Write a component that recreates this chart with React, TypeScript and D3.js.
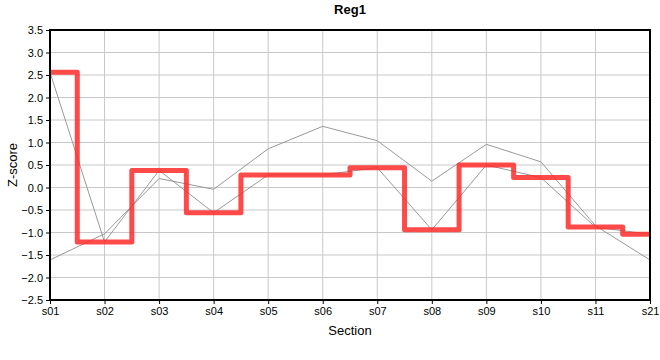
import React, { useEffect, useRef } from 'react'
import * as d3 from 'd3'

const sections = ['s01', 's02', 's03', 's04', 's05', 's06', 's07', 's08', 's09', 's10', 's11', 's21']
const regValues = [2.56, -1.21, 0.38, -0.56, 0.28, 0.28, 0.44, -0.94, 0.5, 0.22, -0.88, -1.04]
const otherValues = [-1.61, -1.03, 0.2, -0.04, 0.86, 1.36, 1.04, 0.14, 0.96, 0.57, -0.85, -1.61]
const yTicks = d3.range(-2.5, 3.51, 0.5)

export default function App() {
  const svgRef = useRef<SVGSVGElement>(null)
  const width = 660
  const height = 360

  useEffect(() => {
    if (!svgRef.current) return
    const svg = d3.select(svgRef.current)
    svg.selectAll('*').remove()

    const margin = { top: 30, right: 10, bottom: 60, left: 50 }
    const w = width - margin.left - margin.right
    const h = height - margin.top - margin.bottom
    const font = 'Arial, "Liberation Sans", sans-serif'

    const x = d3.scalePoint<string>().domain(sections).range([0, w])
    const y = d3.scaleLinear().domain([-2.5, 3.5]).range([h, 0])

    const g = svg.append('g').attr('transform', `translate(${margin.left},${margin.top})`)

    // grid
    g.append('g')
      .selectAll('line')
      .data(sections)
      .join('line')
      .attr('x1', d => x(d)!)
      .attr('x2', d => x(d)!)
      .attr('y1', 0)
      .attr('y2', h)
      .attr('stroke', '#c8c8c8')
    g.append('g')
      .selectAll('line')
      .data(yTicks)
      .join('line')
      .attr('x1', 0)
      .attr('x2', w)
      .attr('y1', d => y(d))
      .attr('y2', d => y(d))
      .attr('stroke', '#c8c8c8')

    const line = d3.line<number>()
      .x((_, i) => x(sections[i])!)
      .y(d => y(d))

    // gray lines
    g.append('path')
      .datum(otherValues)
      .attr('d', line)
      .attr('fill', 'none')
      .attr('stroke', '#999')
      .attr('stroke-width', 1)
    g.append('path')
      .datum(regValues)
      .attr('d', line)
      .attr('fill', 'none')
      .attr('stroke', '#999')
      .attr('stroke-width', 1)

    // red step
    g.append('path')
      .datum(regValues)
      .attr('d', line.curve(d3.curveStep))
      .attr('fill', 'none')
      .attr('stroke', '#ff2a2a')
      .attr('stroke-opacity', 0.85)
      .attr('stroke-width', 5)
      .attr('stroke-linejoin', 'round')

    // border
    g.append('rect')
      .attr('width', w)
      .attr('height', h)
      .attr('fill', 'none')
      .attr('stroke', '#000')
      .attr('stroke-width', 2)

    // axes
    const yAxis = g.append('g')
      .call(d3.axisLeft(y).tickValues(yTicks).tickFormat(d3.format('.1f')).tickSize(4))
    yAxis.select('.domain').remove()
    yAxis.selectAll('text').attr('font-size', 11).attr('font-family', font).attr('fill', '#000')

    const xAxis = g.append('g')
      .attr('transform', `translate(0,${h})`)
      .call(d3.axisBottom(x).tickSize(4))
    xAxis.select('.domain').remove()
    xAxis.selectAll('text').attr('font-size', 11).attr('font-family', font).attr('fill', '#000').attr('dy', '0.75em')

    svg.append('text')
      .attr('x', margin.left + w / 2)
      .attr('y', 14)
      .attr('text-anchor', 'middle')
      .attr('font-size', 13)
      .attr('font-weight', 'bold')
      .attr('font-family', font)
      .text('Reg1')

    svg.append('text')
      .attr('x', margin.left + w / 2)
      .attr('y', 335)
      .attr('text-anchor', 'middle')
      .attr('font-size', 13)
      .attr('font-family', font)
      .text('Section')

    svg.append('text')
      .attr('transform', `translate(17,${margin.top + h / 2}) rotate(-90)`)
      .attr('text-anchor', 'middle')
      .attr('font-size', 13)
      .attr('font-family', font)
      .text('Z-score')
  }, [])

  return (
    <svg
      ref={svgRef}
      width={width}
      height={height}
      style={{ position: 'absolute', left: 0, top: 0, background: '#fff' }}
    />
  )
}
